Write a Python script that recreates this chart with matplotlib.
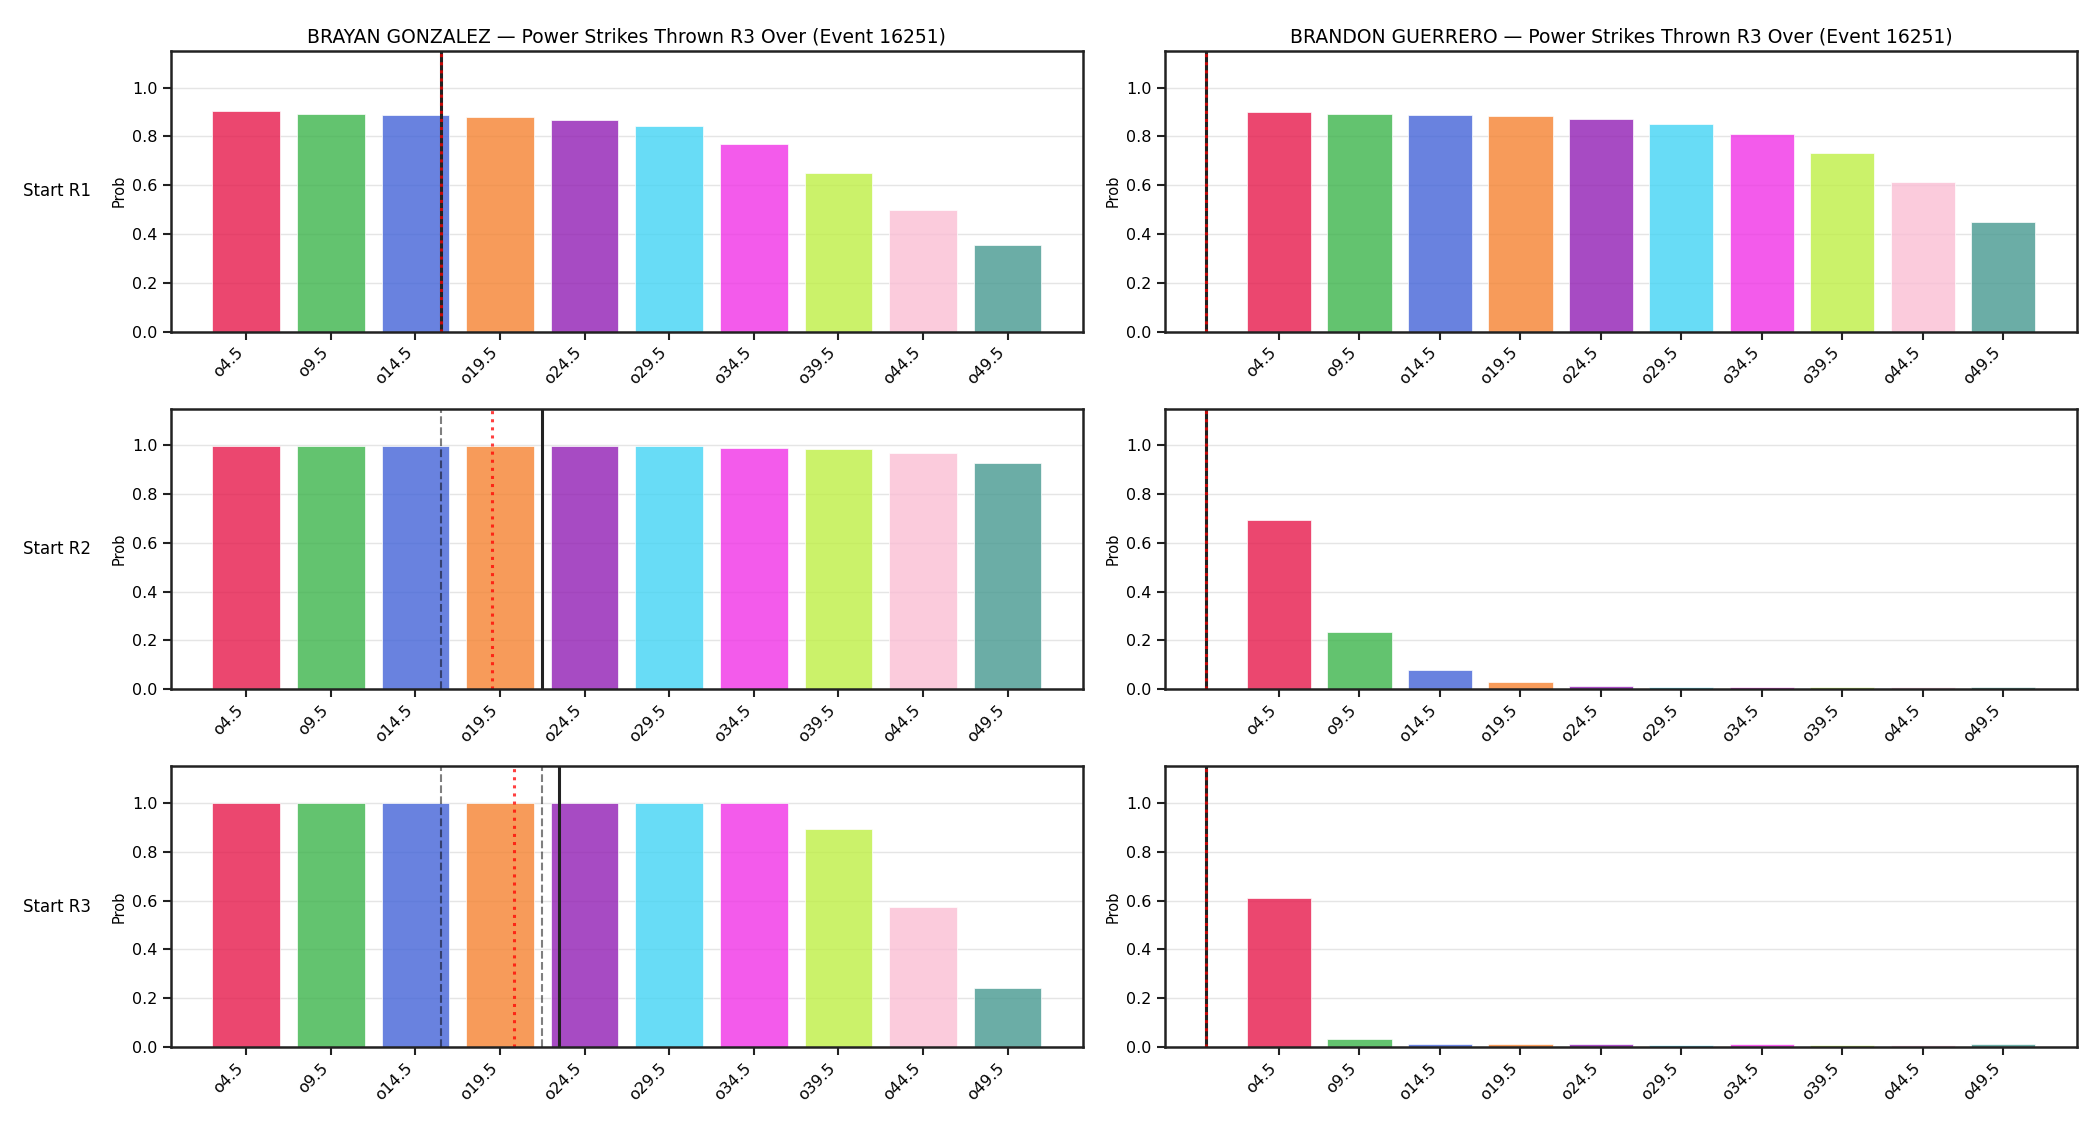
import numpy as np
import matplotlib
matplotlib.use('Agg')
import matplotlib.pyplot as plt

# ------------------------ DATA
lines = [4.5, 9.5, 14.5, 19.5, 24.5, 29.5, 34.5, 39.5, 44.5, 49.5]
labels = ['o4.5', 'o9.5', 'o14.5', 'o19.5', 'o24.5', 'o29.5', 'o34.5', 'o39.5', 'o44.5', 'o49.5']
rows = ['Start R1', 'Start R2', 'Start R3']
fighters = ['BRAYAN GONZALEZ', 'BRANDON GUERRERO']
event_id = 16251

gonzalez_r1 = [0.903, 0.890, 0.886, 0.878, 0.866, 0.841, 0.767, 0.648, 0.500, 0.356]
gonzalez_r2 = [0.999, 0.999, 0.999, 0.999, 0.998, 0.997, 0.990, 0.985, 0.968, 0.927]
gonzalez_r3 = [1.000, 1.000, 1.000, 1.000, 1.000, 1.000, 0.999, 0.892, 0.572, 0.244]

guerrero_r1 = [0.899, 0.893, 0.886, 0.882, 0.870, 0.852, 0.808, 0.730, 0.614, 0.447]
guerrero_r2 = [0.695, 0.236, 0.081, 0.031, 0.012, 0.011, 0.011, 0.010, 0.009, 0.011]
guerrero_r3 = [0.611, 0.034, 0.012, 0.011, 0.012, 0.010, 0.011, 0.009, 0.009, 0.011]

# reference markers: current count (solid), projection (dotted), completed rounds (dashed)
gonzalez_current = [16, 22, 23]
gonzalez_proj = [16, 19, 20.35]
gonzalez_done = [[], [16], [16, 22]]

guerrero_current = [0, 0, 0]
guerrero_proj = [0, 0, 0]
guerrero_done = [[], [], []]

colors = ['#e6194b', '#3cb44b', '#4363d8', '#f58231', '#911eb4',
          '#42d4f4', '#f032e6', '#bfef45', '#fabed4', '#469990']

probs = [[gonzalez_r1, gonzalez_r2, gonzalez_r3],
         [guerrero_r1, guerrero_r2, guerrero_r3]]
current = [gonzalez_current, guerrero_current]
proj = [gonzalez_proj, guerrero_proj]
done = [gonzalez_done, guerrero_done]

#------------------------ PLOT
my_dpi = 100
fig, axes = plt.subplots(3, 2, figsize=(2100 / my_dpi, 1125 / my_dpi), dpi=my_dpi)
fig.subplots_adjust(left=0.0814, right=0.989, top=0.9547, bottom=0.0693,
                    wspace=0.09, hspace=0.275)

for c in range(2):
    for r in range(3):
        ax = axes[r, c]
        ax.bar(lines, probs[c][r], width=4, color=colors, alpha=0.8,
               edgecolor='white', linewidth=0.6)
        for d in done[c][r]:
            ax.axvline(d, color='black', alpha=0.5, linestyle='--', linewidth=1.5)
        ax.axvline(current[c][r], color='#222222', linewidth=2.2)
        ax.axvline(proj[c][r], color='red', alpha=0.75, linestyle=':', linewidth=2.2)

        ax.set_ylim(0, 1.15)
        ax.set_xticks(lines)
        ax.set_xticklabels(labels, rotation=45, ha='right', fontsize=11.5)
        ax.tick_params(axis='y', labelsize=11.5)
        ax.tick_params(length=6, width=1.5, color='#222222')
        ax.set_ylabel('Prob', fontsize=10.5)
        ax.grid(axis='y', color='#e5e5e5', linewidth=1)
        ax.set_axisbelow(True)
        for s in ax.spines.values():
            s.set_linewidth(1.8)
            s.set_color('#222222')

        if r == 0:
            ax.set_title('{} \u2014 Power Strikes Thrown R3 Over (Event {})'.format(fighters[c], event_id),
                         fontsize=13.5)
        if c == 0:
            pos = ax.get_position()
            fig.text(0.011, (pos.y0 + pos.y1) / 2, rows[r], fontsize=12,
                     ha='left', va='center')

fig.savefig('out.png', dpi=my_dpi)
plt.close(fig)
